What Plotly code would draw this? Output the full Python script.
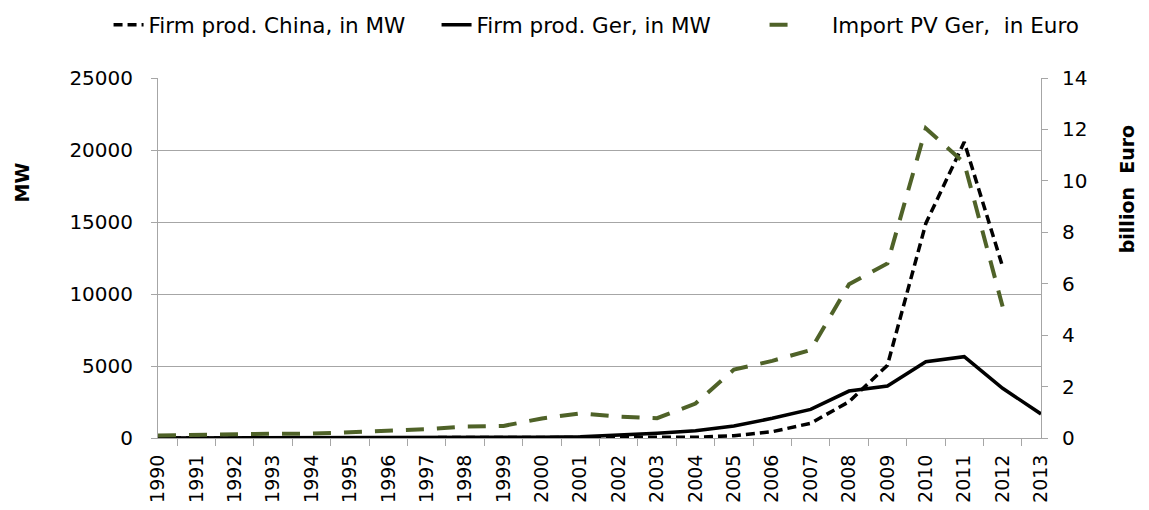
import plotly.graph_objects as go

years = [str(y) for y in range(1990, 2014)]
china_mw = [0, 0, 0, 0, 0, 0, 0, 0, 0, 0, 3, 5, 10, 20, 50, 160, 440, 1020, 2520, 5050, 14900, 20550, 11900, None]
ger_mw = [1, 2, 3, 5, 8, 15, 20, 30, 40, 45, 60, 80, 200, 330, 510, 830, 1370, 1990, 3260, 3610, 5300, 5650, 3450, 1670]
import_eur = [0.1, 0.12, 0.17, 0.17, 0.17, 0.22, 0.28, 0.34, 0.45, 0.47, 0.76, 0.96, 0.83, 0.77, 1.34, 2.66, 3.0, 3.42, 5.98, 6.79, 12.04, 10.7, 5.11, None]

left_ticks = [0, 5000, 10000, 15000, 20000, 25000]
right_ticks = [0, 2, 4, 6, 8, 10, 12, 14]

FONT = "DejaVu Sans"
GREEN = "#4F6228"
GRID = "#A6A6A6"

fig = go.Figure()
fig.add_trace(go.Scatter(x=years, y=china_mw, name="Firm prod. China, in MW", mode="lines",
                         line=dict(color="black", width=3.5, dash="9px,5px"), connectgaps=False))
fig.add_trace(go.Scatter(x=years, y=ger_mw, name="Firm prod. Ger, in MW", mode="lines",
                         line=dict(color="black", width=3.5)))
fig.add_trace(go.Scatter(x=years, y=import_eur, name="\u00a0\u00a0\u00a0\u00a0Import PV Ger,  in Euro", mode="lines",
                         line=dict(color=GREEN, width=4, dash="18px,13px"), yaxis="y2"))

# page body has an 8px margin, so the figure is sized/offset to compensate
fig.update_layout(
    width=1141, height=502,
    margin=dict(l=150, r=108, t=70, b=72, autoexpand=False),
    paper_bgcolor="white", plot_bgcolor="white",
    font=dict(family=FONT, size=20, color="black"),
    showlegend=True,
    legend=dict(orientation="h", x=-0.056, y=1.205,
                xanchor="left", yanchor="top",
                font=dict(family=FONT, size=21.5), entrywidth=283, entrywidthmode="pixels",
                traceorder="normal", bgcolor="rgba(0,0,0,0)"),
    xaxis=dict(type="category", tickson="boundaries", ticks="outside", ticklen=7,
               tickcolor=GRID, showline=True, linecolor=GRID, linewidth=1,
               showgrid=False, tickangle=-90, tickfont=dict(size=19), automargin=False,
               ticklabelstandoff=8),
    yaxis=dict(range=[0, 25000], tickvals=left_ticks, ticktext=[str(v) for v in left_ticks],
               showgrid=True, gridcolor=GRID, gridwidth=1, ticks="outside", ticklen=6,
               tickcolor=GRID, showline=True, linecolor=GRID, zeroline=False,
               tickfont=dict(size=20), automargin=False, ticklabelstandoff=14),
    yaxis2=dict(range=[0, 14], tickvals=right_ticks, overlaying="y", side="right",
                showgrid=False, ticks="outside", ticklen=6, tickcolor=GRID,
                showline=True, linecolor=GRID, zeroline=False, tickfont=dict(size=20),
                automargin=False, ticklabelstandoff=10),
    annotations=[
        dict(text="<b>MW</b>", x=-0.154, y=0.71, xref="paper", yref="paper",
             xanchor="center", yanchor="middle",
             textangle=-90, showarrow=False, font=dict(size=19)),
        dict(text="<b>billion\u00a0 Euro</b>", x=1.097, y=0.69, xref="paper", yref="paper",
             xanchor="center", yanchor="middle",
             textangle=-90, showarrow=False, font=dict(size=19)),
    ],
)

fig.write_html("out.html")
